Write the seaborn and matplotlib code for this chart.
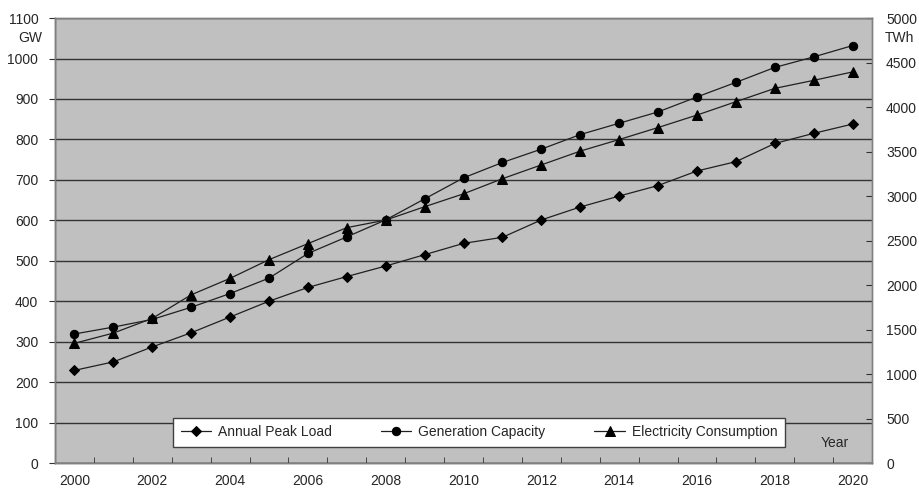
import numpy as np
import pandas as pd
import matplotlib
matplotlib.use("Agg")
import matplotlib.pyplot as plt
from matplotlib.ticker import MultipleLocator, FixedLocator
import seaborn as sns

# data
years = list(range(2000, 2021))
peak_load = [229, 250, 287, 322, 361, 400, 434, 461, 487, 515, 543, 558, 601, 633, 660, 686, 722, 745, 790, 815, 838]
gen_capacity = [319, 336, 355, 385, 419, 457, 518, 559, 601, 653, 705, 743, 776, 812, 840, 868, 905, 941, 978, 1004, 1032]
consumption = [1345, 1460, 1625, 1890, 2075, 2285, 2465, 2645, 2730, 2880, 3025, 3195, 3350, 3505, 3635, 3770, 3910, 4060, 4210, 4300, 4395]

df = pd.DataFrame({"Year": years, "peak": peak_load, "cap": gen_capacity, "cons": consumption})

sns.set_style("white", {"axes.facecolor": "#C0C0C0"})
plt.rcParams["font.family"] = ["Liberation Sans", "DejaVu Sans"]
plt.rcParams["font.size"] = 10

fig, ax = plt.subplots(figsize=(9.19, 4.88), dpi=100)
fig.subplots_adjust(left=0.0598, right=0.949, top=0.963, bottom=0.0512)
ax2 = ax.twinx()

sns.lineplot(data=df, x="Year", y="peak", ax=ax, color="#202020", lw=0.9, marker="D",
             markersize=5, markerfacecolor="black", markeredgecolor="black", label="Annual Peak Load", legend=False)
sns.lineplot(data=df, x="Year", y="cap", ax=ax, color="#202020", lw=0.9, marker="o",
             markersize=6, markerfacecolor="black", markeredgecolor="black", label="Generation Capacity", legend=False)
sns.lineplot(data=df, x="Year", y="cons", ax=ax2, color="#202020", lw=0.9, marker="^",
             markersize=7, markerfacecolor="black", markeredgecolor="black", label="Electricity Consumption", legend=False)

ax.set_xlim(1999.5, 2020.5)
ax.set_ylim(0, 1100)
ax2.set_ylim(0, 5000)
ax.yaxis.set_major_locator(MultipleLocator(100))
ax2.yaxis.set_major_locator(MultipleLocator(500))
ax.xaxis.set_major_locator(FixedLocator(years[::2]))
ax.xaxis.set_minor_locator(FixedLocator([y + 0.5 for y in years[:-1]]))
ax.tick_params(axis="x", which="major", length=0, pad=8, labelsize=10)
ax.tick_params(axis="x", which="minor", length=4, direction="in", color="#303030", bottom=True)
ax.tick_params(axis="y", length=4, direction="out", pad=8, labelsize=10, left=True, color="#303030")
ax2.tick_params(axis="y", length=4, direction="in", pad=10, labelsize=10, right=True, color="#303030")
ax.set_xlabel("")
ax.set_ylabel("")
ax2.set_ylabel("")

ax.grid(axis="y", color="#333333", lw=1)
ax.set_axisbelow(True)
for a in (ax, ax2):
    for s in a.spines.values():
        s.set_color("#808080")
        s.set_linewidth(1)
ax.spines["left"].set_color("#404040")
ax.spines["bottom"].set_color("#404040")

fig.text(0.033, 0.922, "GW", ha="center", va="center", fontsize=10)
fig.text(0.979, 0.922, "TWh", ha="center", va="center", fontsize=10)
ax.text(0.971, 0.045, "Year", transform=ax.transAxes, ha="right", va="center", fontsize=10)

h1, l1 = ax.get_legend_handles_labels()
h2, l2 = ax2.get_legend_handles_labels()
leg = ax2.legend(h1 + h2, l1 + l2, loc="lower left", bbox_to_anchor=(0.1444, 0.036, 0.749, 0.0787),
                 mode="expand", ncol=3, frameon=True, fancybox=False, framealpha=1,
                 edgecolor="#404040", facecolor="white", fontsize=10, handlelength=2.2,
                 handletextpad=0.5, borderaxespad=0, borderpad=0.55, columnspacing=1.0)
leg.get_frame().set_linewidth(1)

plt.savefig("out.png", dpi=100)
